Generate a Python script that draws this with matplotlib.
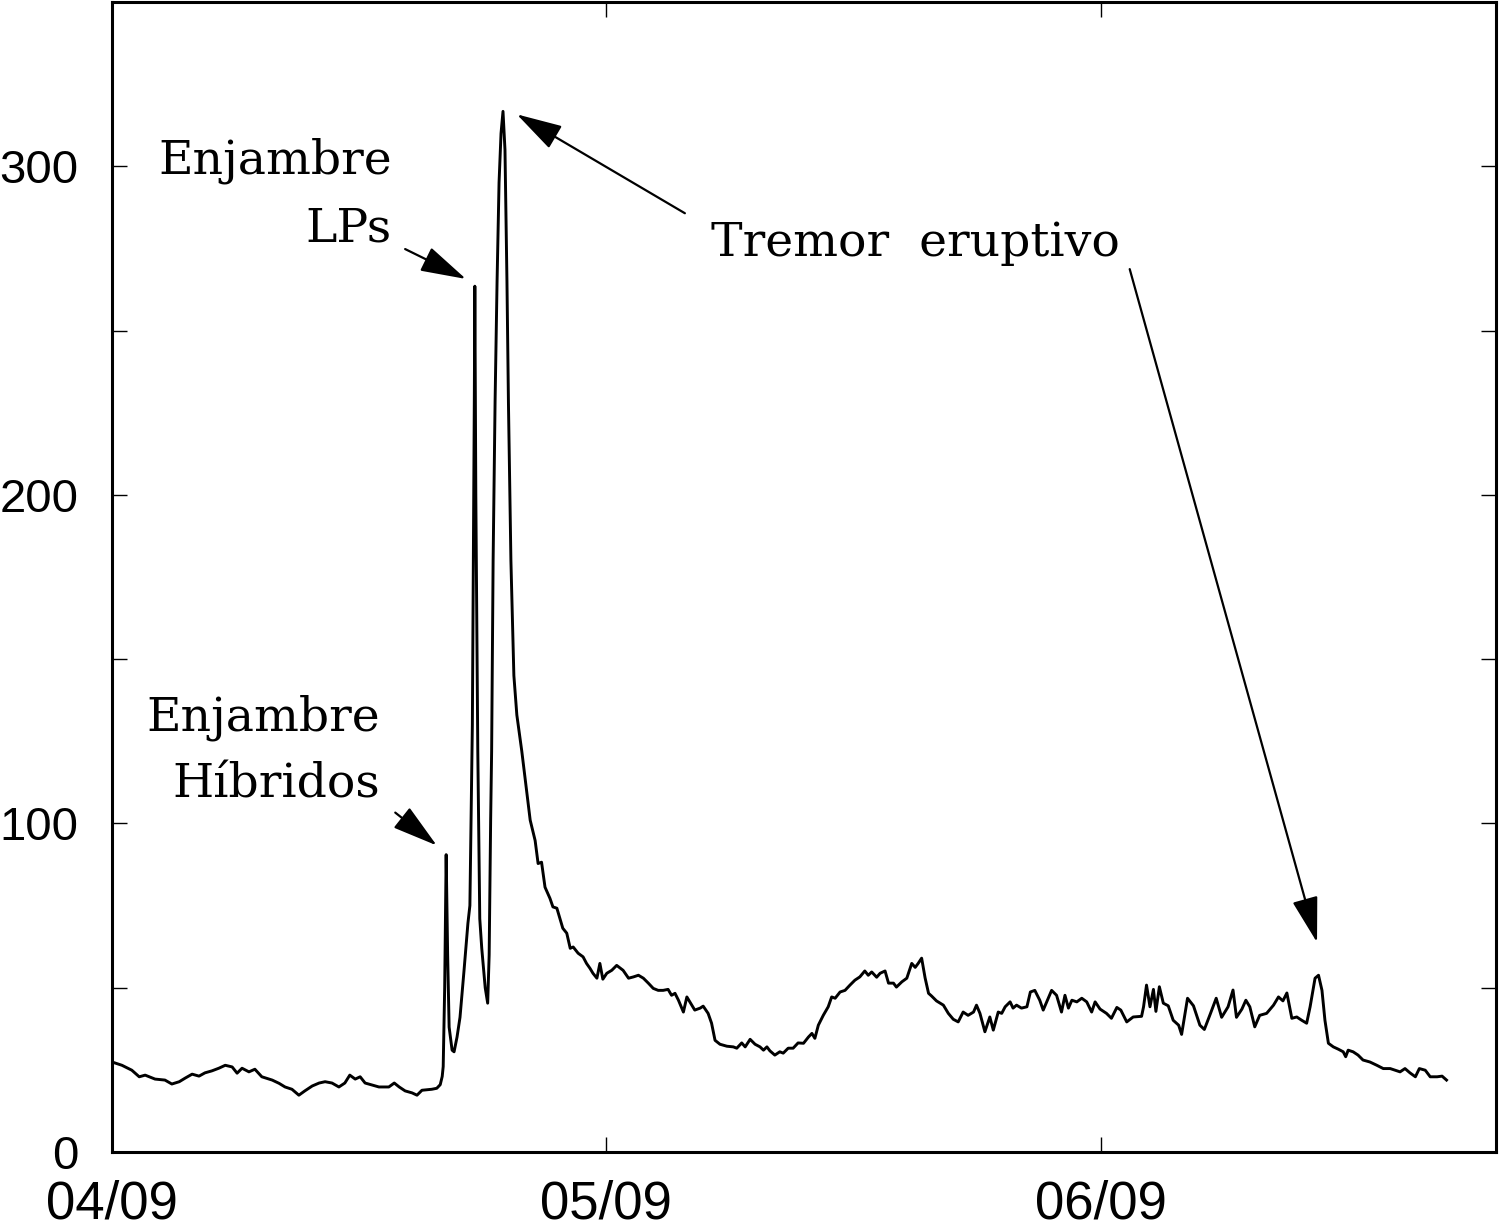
import matplotlib
matplotlib.use("Agg")
import matplotlib.pyplot as plt

# tiempo en dias desde 04/09 y amplitud del tremor
dias = [0.000, 0.020, 0.040, 0.055, 0.067, 0.087, 0.107, 0.121, 0.136, 0.148,
        0.162, 0.176, 0.188, 0.202, 0.216, 0.229, 0.243, 0.253, 0.263, 0.277,
        0.289, 0.303, 0.324, 0.338, 0.350, 0.364, 0.378, 0.390, 0.405, 0.419,
        0.431, 0.445, 0.459, 0.471, 0.481, 0.492, 0.502, 0.512, 0.526, 0.540,
        0.560, 0.571, 0.581, 0.593, 0.607, 0.617, 0.627, 0.647, 0.657, 0.664,
        0.668, 0.670, 0.673, 0.676, 0.679, 0.682, 0.688, 0.692, 0.698, 0.704,
        0.712, 0.720, 0.724, 0.729, 0.733, 0.734, 0.736, 0.740, 0.744, 0.748,
        0.755, 0.760, 0.763, 0.766, 0.768, 0.771, 0.775, 0.779, 0.783, 0.787,
        0.791, 0.795, 0.799, 0.802, 0.807, 0.813, 0.819, 0.829, 0.846, 0.856,
        0.862, 0.869, 0.876, 0.886, 0.892, 0.900, 0.906, 0.912, 0.920, 0.927,
        0.933, 0.943, 0.953, 0.960, 0.967, 0.973, 0.981, 0.987, 0.993, 1.001,
        1.011, 1.021, 1.034, 1.045, 1.055, 1.065, 1.075, 1.085, 1.095, 1.105,
        1.115, 1.125, 1.132, 1.139, 1.146, 1.156, 1.163, 1.173, 1.179, 1.190,
        1.196, 1.206, 1.213, 1.220, 1.230, 1.244, 1.257, 1.264, 1.274, 1.281,
        1.291, 1.301, 1.311, 1.318, 1.325, 1.331, 1.341, 1.351, 1.358, 1.368,
        1.378, 1.388, 1.399, 1.409, 1.416, 1.422, 1.429, 1.439, 1.449, 1.456,
        1.463, 1.473, 1.483, 1.493, 1.503, 1.513, 1.523, 1.530, 1.537, 1.547,
        1.554, 1.564, 1.571, 1.581, 1.587, 1.598, 1.608, 1.618, 1.625, 1.631,
        1.638, 1.645, 1.652, 1.658, 1.668, 1.682, 1.692, 1.702, 1.712, 1.722,
        1.732, 1.743, 1.749, 1.756, 1.766, 1.776, 1.783, 1.793, 1.800, 1.807,
        1.817, 1.823, 1.830, 1.840, 1.851, 1.858, 1.867, 1.877, 1.884, 1.891,
        1.901, 1.911, 1.921, 1.928, 1.935, 1.942, 1.952, 1.962, 1.972, 1.982,
        1.989, 1.999, 2.012, 2.022, 2.033, 2.041, 2.053, 2.066, 2.083, 2.087,
        2.093, 2.100, 2.107, 2.112, 2.119, 2.127, 2.137, 2.147, 2.158, 2.164,
        2.176, 2.188, 2.201, 2.210, 2.222, 2.234, 2.245, 2.258, 2.268, 2.275,
        2.286, 2.294, 2.302, 2.312, 2.322, 2.336, 2.350, 2.360, 2.369, 2.377,
        2.387, 2.397, 2.407, 2.417, 2.424, 2.434, 2.441, 2.448, 2.454, 2.461,
        2.471, 2.481, 2.491, 2.496, 2.501, 2.511, 2.521, 2.531, 2.545, 2.559,
        2.572, 2.586, 2.596, 2.606, 2.616, 2.626, 2.637, 2.645, 2.657, 2.667,
        2.681, 2.691, 2.700]

amplitud = [27.4, 26.4, 24.9, 22.9, 23.4, 22.2, 21.9, 20.7, 21.4, 22.5,
            23.7, 23.1, 24.1, 24.7, 25.5, 26.4, 25.9, 24.0, 25.5, 24.4,
            25.2, 22.9, 21.9, 20.9, 19.8, 19.1, 17.3, 18.6, 20.1, 21.0,
            21.4, 21.0, 19.8, 21.0, 23.4, 22.2, 22.9, 21.0, 20.4, 19.8,
            19.8, 21.0, 19.8, 18.6, 18.0, 17.3, 18.8, 19.1, 19.4, 20.5,
            23.0, 26.0, 50.0, 90.5, 60.0, 38.0, 31.0, 30.5, 35.0, 41.0,
            55.0, 69.6, 75.0, 130.0, 230.0, 263.5, 200.0, 122.0, 71.0, 62.0,
            50.0, 45.3, 60.0, 101.0, 122.0, 180.0, 228.6, 265.0, 295.0, 310.0,
            316.7, 305.0, 265.0, 228.0, 180.0, 145.0, 133.0, 122.0, 101.0, 94.8,
            87.8, 88.2, 80.6, 77.2, 74.6, 74.2, 71.1, 68.1, 66.6, 62.0,
            62.4, 60.5, 59.4, 57.4, 55.9, 54.4, 52.9, 57.4, 52.6, 54.4,
            55.3, 56.8, 55.3, 52.9, 53.3, 53.8, 52.9, 51.4, 49.8, 49.2,
            49.2, 49.5, 47.7, 48.3, 46.2, 42.6, 47.2, 44.7, 43.2, 43.8,
            44.4, 42.2, 39.2, 34.0, 32.8, 32.2, 32.0, 31.6, 33.2, 32.0,
            34.3, 32.8, 32.0, 31.0, 32.0, 30.8, 29.5, 30.5, 30.1, 31.6,
            31.6, 33.2, 33.1, 35.0, 36.1, 34.6, 38.6, 41.6, 44.2, 47.2,
            46.8, 48.7, 49.2, 50.8, 52.3, 53.3, 55.1, 53.8, 54.8, 53.2,
            54.4, 55.1, 51.4, 51.4, 50.2, 51.8, 52.9, 57.4, 56.2, 57.4,
            59.0, 53.0, 48.3, 47.5, 46.0, 44.7, 42.2, 40.4, 39.6, 42.6,
            41.6, 42.6, 44.7, 42.2, 36.6, 41.1, 37.1, 42.6, 42.2, 44.2,
            45.7, 43.8, 44.7, 43.8, 44.2, 48.7, 49.2, 46.2, 43.2, 45.7,
            49.2, 47.7, 42.6, 47.7, 43.8, 46.2, 45.7, 46.8, 45.7, 42.6,
            45.7, 43.5, 42.2, 40.7, 44.0, 43.2, 39.6, 41.1, 41.3, 44.2,
            50.8, 44.2, 49.5, 42.8, 50.3, 45.3, 44.5, 40.1, 38.6, 35.8,
            46.8, 44.5, 38.6, 37.3, 42.0, 46.8, 41.0, 44.2, 49.3, 41.0,
            43.5, 46.2, 44.2, 38.1, 41.6, 42.2, 44.7, 47.2, 46.0, 48.4,
            40.7, 41.1, 40.1, 39.2, 44.2, 52.9, 53.8, 49.2, 40.1, 33.1,
            32.0, 31.3, 30.5, 29.0, 31.0, 30.5, 29.5, 28.0, 27.4, 26.4,
            25.4, 25.4, 24.9, 24.4, 25.4, 24.1, 22.9, 25.4, 24.9, 22.9,
            22.9, 23.1, 21.9]

fechas = ["04/09", "05/09", "06/09"]
ticks_x = [0, 1, 2]
ticks_y = [0, 100, 200, 300]

fig = plt.figure(figsize=(15, 12.27), dpi=100)
ax = fig.add_axes([0.0747, 0.0611, 0.9226, 0.9373])

ax.plot(dias, amplitud, color="black", lw=2.1)

ax.set_xlim(0, 2.8)
ax.set_ylim(0, 350)
ax.set_xticks(ticks_x)
ax.set_xticklabels(fechas)
ax.set_yticks(ticks_y)
ax.set_yticks([50, 150, 250], minor=True)
ax.tick_params(which="both", direction="in", top=True, right=True,
               length=11, width=1)
ax.tick_params(axis="y", pad=24, labelsize=34)
ax.tick_params(axis="x", pad=20, labelsize=38)
for lab in ax.get_xticklabels() + ax.get_yticklabels():
    lab.set_family("Liberation Sans")
for s in ax.spines.values():
    s.set_linewidth(2.2)

flecha = dict(arrowstyle="-|>,head_length=0.95,head_width=0.27",
              color="black", lw=1.6, mutation_scale=30, shrinkA=0, shrinkB=0)
txt = dict(family="DejaVu Serif", fontsize=34, color="black", va="baseline")

# enjambre de hibridos
ax.text(0.542, 128.3, "Enjambre", ha="right", **txt)
ax.text(0.542, 107.9, "Híbridos", ha="right", **txt)
ax.annotate("", xy=(0.657, 93.3), xytext=(0.573, 103.3), arrowprops=flecha)

# enjambre de LPs
ax.text(0.566, 297.9, "Enjambre", ha="right", **txt)
ax.text(0.566, 277.2, "LPs", ha="right", **txt)
ax.annotate("", xy=(0.716, 265.7), xytext=(0.593, 274.8), arrowprops=flecha)

# tremor eruptivo
ax.text(1.625, 272.6, "Tremor  eruptivo", ha="center", **txt)
ax.annotate("", xy=(0.819, 315.8), xytext=(1.159, 285.7), arrowprops=flecha)
ax.annotate("", xy=(2.438, 63.8), xytext=(2.059, 268.7), arrowprops=flecha)

fig.savefig("out.png", dpi=100)
